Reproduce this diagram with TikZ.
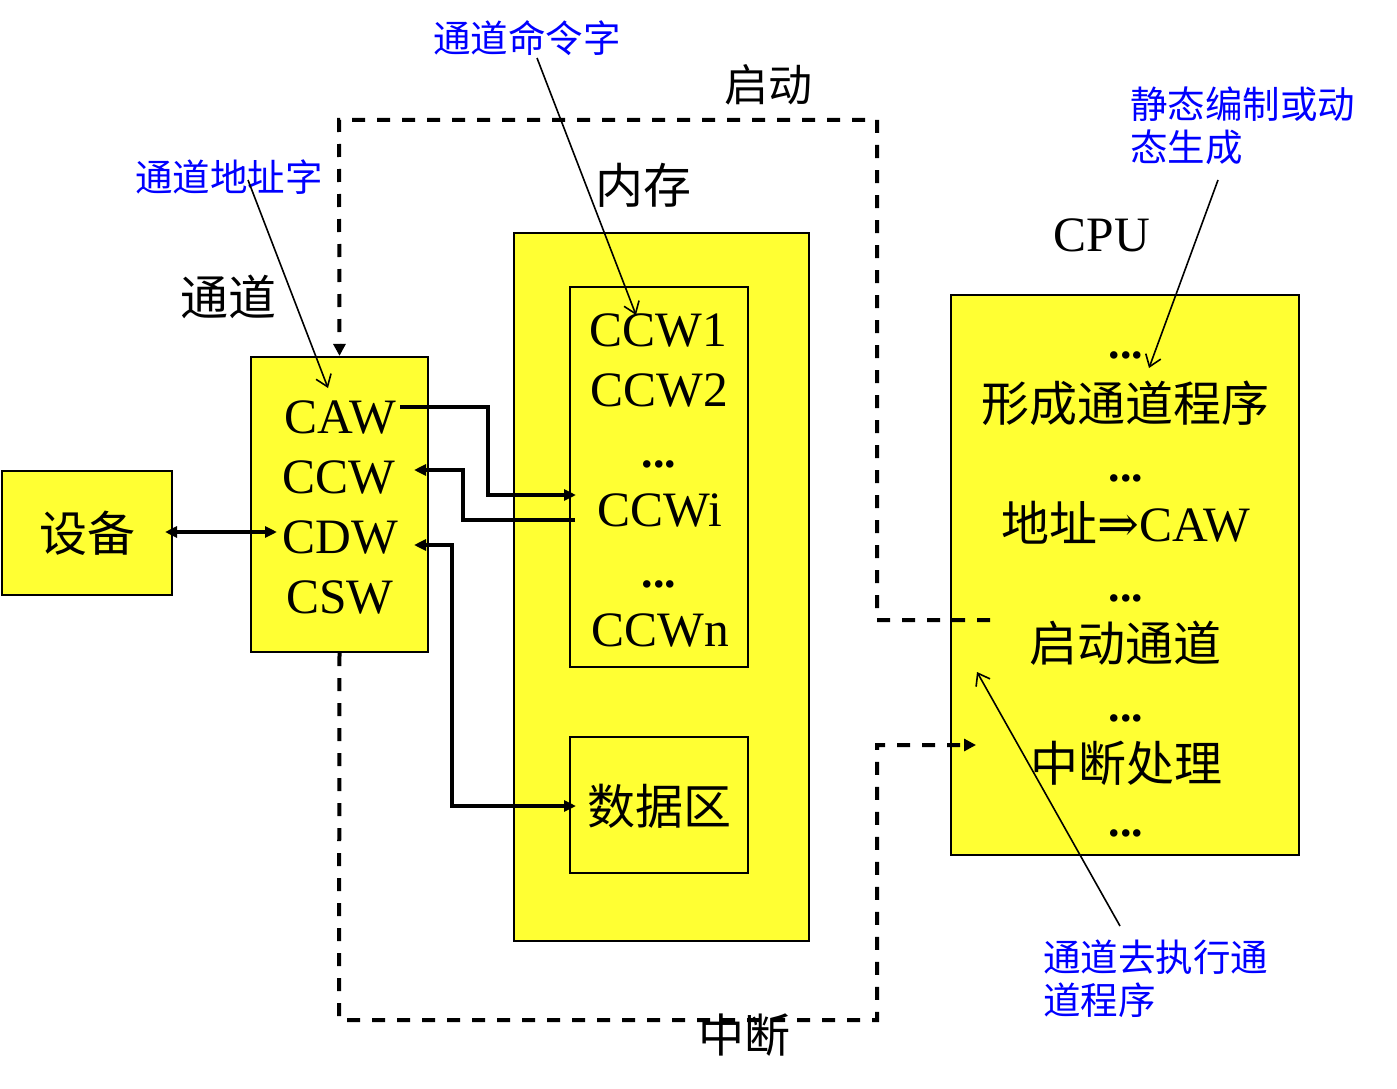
\documentclass[tikz,border=0pt]{standalone}
\usepackage{fontspec}
\setmainfont{Liberation Serif}
\newfontfamily\cjk{Noto Sans CJK SC}
\newfontfamily\symf{DejaVu Serif}
\usetikzlibrary{arrows.meta}
\definecolor{boxyellow}{RGB}{255,255,51}
\begin{document}
\begin{tikzpicture}[x=1pt,y=-1pt,
  box/.style={draw, line width=2.2pt, fill=boxyellow, inner sep=0pt},
  conn/.style={line width=3.5pt},
  ctip/.style={-{Triangle[length=12pt,width=11pt]}},
  dconn/.style={line width=4pt, dash pattern=on 13pt off 12pt},
  dtip/.style={-{Triangle[length=12pt,width=12pt]}},
  note/.style={line width=1.6pt, -{Straight Barb[length=11pt,width=16pt,line width=1.6pt]}},
  bluelbl/.style={text=blue, inner sep=0pt, font=\cjk\fontsize{37.5}{43}\selectfont},
  word/.style={inner sep=0pt, font=\fontsize{49.5}{56}\selectfont},
  cjkword/.style={inner sep=0pt, font=\cjk\fontsize{48}{56}\selectfont},
  dots/.style={inner sep=0pt, anchor=base, font=\bfseries\fontsize{46}{50}\selectfont}
]
\useasboundingbox (0,0) rectangle (1397,1089);

% boxes
\node[box, minimum width=170pt, minimum height=124pt] (dev) at (87,533) {};
\node[box, minimum width=177pt, minimum height=295pt] (chan) at (339.5,504.5) {};
\node[box, minimum width=295pt, minimum height=708pt] (mem) at (661.5,587) {};
\node[box, minimum width=178pt, minimum height=380pt] (ccwbox) at (659,477) {};
\node[box, minimum width=178pt, minimum height=136pt] (databox) at (659,805) {};
\node[box, minimum width=348pt, minimum height=560pt] (cpu) at (1125,575) {};

% device
\node[cjkword] (devt) at (87,533) {设备};

% channel words
\node[word] (caw) at (340,417) {CAW};
\node[word] (ccw) at (339,477) {CCW};
\node[word] (cdw) at (340,537) {CDW};
\node[word] (csw) at (340,597) {CSW};

% memory words
\node[word] (ccw1) at (658,330) {CCW1};
\node[word] (ccw2) at (659,390) {CCW2};
\node[dots] (d1) at (659,467) {...};
\node[word] (ccwi) at (660,510) {CCWi};
\node[dots] (d2) at (659,587) {...};
\node[word] (ccwn) at (660,630) {CCWn};
\node[cjkword] (datat) at (659,806) {数据区};

% CPU contents
\node[dots] (c1) at (1126,358) {...};
\node[cjkword] (form) at (1125,403) {形成通道程序};
\node[dots] (c2) at (1126,481) {...};
\node[word] (addr) at (1126,523) {{\cjk\fontsize{48}{56}\selectfont 地址}{\symf\fontsize{50}{56}\selectfont ⇒}CAW};
\node[dots] (c3) at (1126,601) {...};
\node[cjkword] (start) at (1125,643) {启动通道};
\node[dots] (c4) at (1126,721) {...};
\node[cjkword] (intr) at (1126,763) {中断处理};
\node[dots] (c5) at (1126,836) {...};

% titles
\node[cjkword] (tchan) at (228,297) {通道};
\node[cjkword] (tmem) at (643,185) {内存};
\node[word] (tcpu) at (1102,235) {CPU};

% solid connectors
\coordinate (cawout) at (400,407);
\coordinate (ccwiin) at (576,495);
\coordinate (ccwiout) at (575,520);
\coordinate (ccwin) at (414,470);
\coordinate (cdwin) at (414,545);
\coordinate (datain) at (576,806);
\coordinate (devside) at (165,532);
\coordinate (cdwleft) at (277,532);

\draw[conn, ctip] (cawout) -- (488,407) -- (488,495) -- (ccwiin);
\draw[conn, ctip] (ccwiout) -- (463,520) -- (463,470) -- (ccwin);
\draw[conn, {Triangle[length=12pt,width=11pt]}-{Triangle[length=12pt,width=11pt]}] (cdwin) -- (452,545) -- (452,806) -- (datain);
\draw[conn, {Triangle[length=12pt,width=11pt]}-{Triangle[length=12pt,width=11pt]}] (devside) -- (cdwleft);

% dashed control loop
\coordinate (cpustart) at (990,620);
\coordinate (cpuint) at (976,745);
\draw[dconn, dtip] (cpustart) -- (877,620) -- (877,120) -- (339,120) -- (chan.north);
\draw[dconn, dtip] (chan.south) -- (339,1020) -- (877,1020) -- (877,745) -- (cpuint);

\node[cjkword, font=\cjk\fontsize{44}{56}\selectfont] (tstart) at (768,85) {启动};
\node[cjkword, font=\cjk\fontsize{46}{56}\selectfont] (tint) at (744,1035) {中断};

% blue annotations
\node[bluelbl] (lcmd) at (527,38) {通道命令字};
\node[bluelbl] (laddr) at (229,177) {通道地址字};
\node[bluelbl, anchor=north west, align=left] (lstat) at (1130,87) {静态编制或动\\态生成};
\node[bluelbl, anchor=north west, align=left] (lexec) at (1043,940) {通道去执行通\\道程序};

\coordinate (a1s) at (248,180);
\coordinate (a1e) at (328,388);
\coordinate (a2s) at (537,58);
\coordinate (a2e) at (636,315);
\coordinate (a3s) at (1218,180);
\coordinate (a3e) at (1149,368);
\coordinate (a4s) at (1120,926);
\coordinate (a4e) at (977,672);
\draw[note] (a1s) -- (a1e);
\draw[note] (a2s) -- (a2e);
\draw[note] (a3s) -- (a3e);
\draw[note] (a4s) -- (a4e);
\end{tikzpicture}
\end{document}
